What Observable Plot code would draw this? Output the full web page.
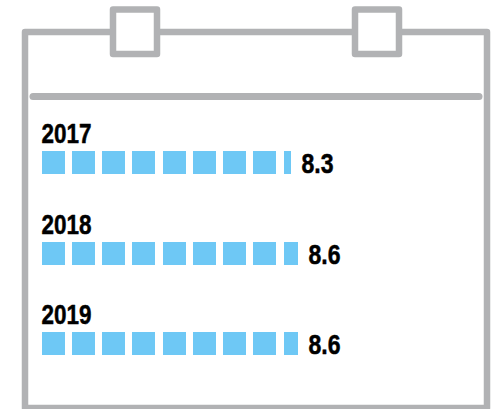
<!DOCTYPE html>
<html>
<head>
<meta charset="utf-8">
<script src="https://cdn.jsdelivr.net/npm/d3@7"></script>
<script src="https://cdn.jsdelivr.net/npm/@observablehq/plot@0.6"></script>
<style>html,body{margin:0;padding:0;background:#fff}svg{display:block}</style>
</head>
<body>
<div id="chart"></div>
<script>
const years = [2017, 2018, 2019];
const values = [8.3, 8.6, 8.6];

const GREY = "#b1b2b4", BLUE = "#6ec8f5";
const unit = 0.76; // share of a column covered by a full square

// Calendar outline, in pixels
const page = [{x1: 25, y1: 32, x2: 487, y2: 408}];
const rings = [{x1: 113, y1: 9.5, x2: 157, y2: 54}, {x1: 355, y1: 9.5, x2: 399, y2: 54}];
const divider = [{x1: 33, x2: 479, y: 96}];

const cells = years.flatMap((year, r) => {
  const v = values[r], out = [];
  for (let i = 0; i < v; i++) out.push({year, i, frac: Math.min(1, v - i)});
  return out;
});
const table = years.map((year, r) => ({year, value: values[r]}));
const px = k => ({value: k, scale: null});

// The reference face is condensed: squeeze the glyphs to the measured widths.
const squeeze = (len) => (index, scales, values, dims, context, next) => {
  const g = next(index, scales, values, dims, context);
  d3.select(g).selectAll("text")
    .attr("textLength", len)
    .attr("lengthAdjust", "spacingAndGlyphs");
  return g;
};

const chart = Plot.plot({
  width: 497, height: 409,
  margin: 0,
  style: {background: "#fff", fontFamily: "'Liberation Sans', sans-serif"},
  x: {domain: [0, 8], range: [41.74, 283.74], round: true, axis: null},
  y: {domain: [2017, 2019], range: [151, 332], round: true, axis: null},
  marks: [
    Plot.rect(page, {x1: px("x1"), x2: px("x2"), y1: px("y1"), y2: px("y2"), fill: "none", stroke: GREY, strokeWidth: 6.5, strokeLinejoin: "round"}),
    Plot.rect(rings, {x1: px("x1"), x2: px("x2"), y1: px("y1"), y2: px("y2"), fill: "#fff", stroke: GREY, strokeWidth: 6.5, strokeLinejoin: "round"}),
    Plot.ruleY(divider, {x1: px("x1"), x2: px("x2"), y: px("y"), stroke: GREY, strokeWidth: 7, strokeLinecap: "round"}),
    Plot.rect(cells, {
      x1: "i",
      x2: d => d.i + d.frac * unit,
      y1: "year",
      y2: "year",
      insetBottom: -23,
      fill: BLUE
    }),
    Plot.text(table, {x: () => 0, y: "year", text: d => String(d.year), textAnchor: "start", lineAnchor: "bottom", dx: -1, dy: -9, fontSize: 28, fontWeight: 700, fill: "#000", stroke: "#000", strokeWidth: 0.5, render: squeeze(50)}),
    Plot.text(table, {
      x: d => Math.floor(d.value) + (d.value % 1) * unit,
      y: "year",
      text: d => d.value.toFixed(1),
      textAnchor: "start", lineAnchor: "bottom", dx: 10, dy: 21,
      fontSize: 28, fontWeight: 700, fill: "#000", stroke: "#000", strokeWidth: 0.5, render: squeeze(32)
    })
  ]
});
document.getElementById("chart").append(chart);
</script>
</body>
</html>
